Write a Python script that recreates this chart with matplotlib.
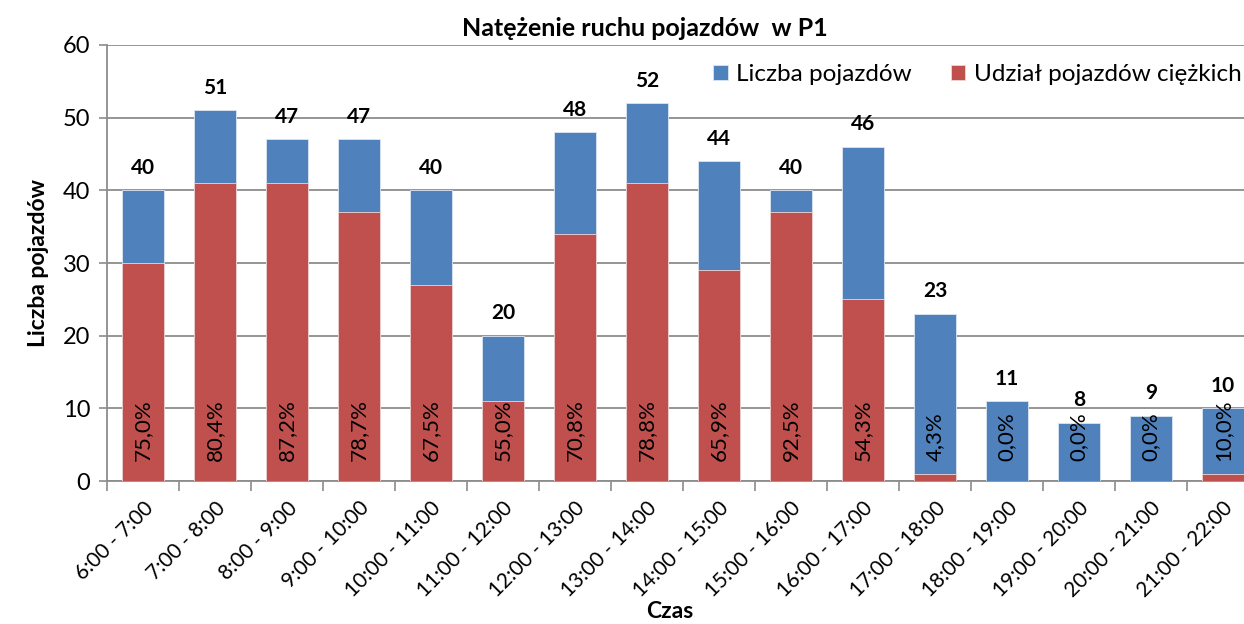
import matplotlib
matplotlib.use("Agg")
import matplotlib.pyplot as plt
import numpy as np

plt.rcParams['font.family'] = ['Lato', 'DejaVu Sans']

godziny = ["6:00 - 7:00", "7:00 - 8:00", "8:00 - 9:00", "9:00 - 10:00",
           "10:00 - 11:00", "11:00 - 12:00", "12:00 - 13:00", "13:00 - 14:00",
           "14:00 - 15:00", "15:00 - 16:00", "16:00 - 17:00", "17:00 - 18:00",
           "18:00 - 19:00", "19:00 - 20:00", "20:00 - 21:00", "21:00 - 22:00"]
liczba = [40, 51, 47, 47, 40, 20, 48, 52, 44, 40, 46, 23, 11, 8, 9, 10]
ciezkie = [30, 41, 41, 37, 27, 11, 34, 41, 29, 37, 25, 1, 0, 0, 0, 1]
udzial = ["75,0%", "80,4%", "87,2%", "78,7%", "67,5%", "55,0%", "70,8%", "78,8%",
          "65,9%", "92,5%", "54,3%", "4,3%", "0,0%", "0,0%", "0,0%", "10,0%"]

niebieski = '#4F81BD'
czerwony = '#C0504D'

fig = plt.figure(figsize=(12.44, 6.24), dpi=100)
ax = fig.add_axes([0.086, 0.229, 0.926, 0.699])

x = np.arange(len(godziny))
ax.bar(x, liczba, width=0.58, color=niebieski, edgecolor='#dde6f2', linewidth=0.6,
       label='Liczba pojazdów', zorder=3)
ax.bar(x, ciezkie, width=0.58, color=czerwony, edgecolor='#f0d6d5', linewidth=0.6,
       label='Udział pojazdów ciężkich', zorder=4)

for i in range(len(x)):
    ax.annotate(str(liczba[i]), (x[i], liczba[i]), xytext=(0, 9), textcoords='offset points',
                ha='center', va='bottom', fontsize=15, fontweight='bold', zorder=6)
    ax.text(x[i], 2.8, udzial[i], rotation=90, ha='center', va='bottom',
            fontsize=16, zorder=6)

ax.set_xlim(-0.5, len(x) - 0.5)
ax.set_ylim(0, 60)
ax.set_yticks(range(0, 61, 10))
ax.yaxis.grid(True, color='#8c8c8c', linewidth=1.3, zorder=0)
ax.set_axisbelow(True)

ax.set_xticks(x)
ax.set_xticklabels(godziny, rotation=45, ha='right', rotation_mode='anchor', fontsize=15)
ax.set_xticks(np.arange(-0.5, len(x), 1), minor=True)
ax.tick_params(axis='x', which='major', length=0, pad=12)
ax.tick_params(axis='x', which='minor', length=7, color='#8c8c8c', width=1.2)
ax.tick_params(axis='y', length=6, color='#8c8c8c', width=1.2, labelsize=17, pad=6)

for s in ['top', 'right']:
    ax.spines[s].set_visible(False)
for s in ['left', 'bottom']:
    ax.spines[s].set_color('#8c8c8c')
    ax.spines[s].set_linewidth(1.3)

ax.set_ylabel('Liczba pojazdów', fontsize=16.5, fontweight='bold', labelpad=10)
fig.text(0.538, 0.02, 'Czas', ha='center', va='center', fontsize=16.5, fontweight='bold')
fig.text(0.518, 0.955, 'Natężenie ruchu pojazdów  w P1', ha='center', va='center',
         fontsize=18, fontweight='bold')

ax.legend(loc='upper right', bbox_to_anchor=(1.004, 1.006), ncol=2, frameon=False,
          fontsize=17.5, handlelength=0.6, handleheight=0.6, handletextpad=0.35,
          columnspacing=1.6)

fig.savefig('out.png', dpi=100)
